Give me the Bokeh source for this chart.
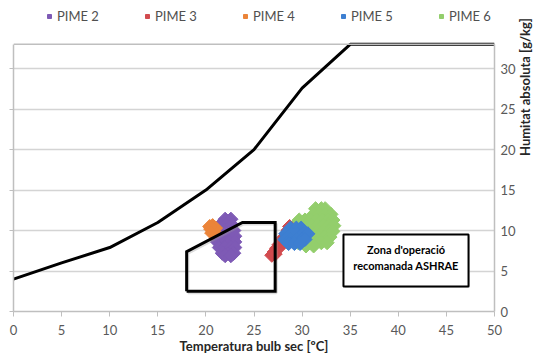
import math
from bokeh.plotting import figure
from bokeh.models import LinearAxis, Range1d, FixedTicker, Legend, LegendItem, Span
from bokeh.embed import file_html
from bokeh.resources import INLINE
from bokeh.core.properties import value

# ---------------- data ----------------
x_ticks = [0, 5, 10, 15, 20, 25, 30, 35, 40, 45, 50]
y_ticks = [0, 5, 10, 15, 20, 25, 30]
x_max = 50
y_max = 33

# saturation curve
sat_x = [0, 5, 10, 15, 20, 25, 30, 35, 50]
sat_y = [4.0, 6.0, 7.9, 11.0, 15.0, 20.0, 27.6, 33.0, 33.0]

# ASHRAE zone polygon
zone_x = [18.0, 18.0, 23.8, 27.2, 27.2, 18.0]
zone_y = [2.5, 7.4, 11.0, 11.0, 2.5, 2.5]

# annotation box (data units) and text
note_box = dict(left=34.3, right=47.3, bottom=3.1, top=9.5)
note_lines = ["Zona d'operació", "recomanada ASHRAE"]
note_x = [40.8, 40.8]
note_y = [7.6, 5.7]

x_title = "Temperatura bulb sec [ºC]"
y_title = "Humitat absoluta [g/kg]"

series_names = ["PIME 2", "PIME 3", "PIME 4", "PIME 5", "PIME 6"]
series_colors = ["#7E5AB5", "#D24B4F", "#EB8439", "#3D7FD1", "#93CE6C"]

pime2 = [(22.0, 11.4), (22.6, 11.4),
         (21.5, 10.7), (22.1, 10.7), (22.7, 10.7),
         (21.4, 10.0), (22.0, 10.0), (22.6, 10.0), (22.9, 10.0),
         (21.2, 9.3), (21.8, 9.3), (22.4, 9.3), (23.0, 9.3),
         (21.2, 8.6), (21.8, 8.6), (22.4, 8.6), (23.0, 8.6),
         (21.4, 7.9), (22.0, 7.9), (22.6, 7.9), (23.0, 7.9),
         (21.7, 7.2), (22.3, 7.2), (22.9, 7.2),
         (22.0, 6.9), (22.6, 6.9)]

pime3 = [(26.85, 6.95), (27.1, 7.35), (27.35, 7.8), (27.6, 8.25), (27.85, 8.7),
         (28.1, 9.15), (28.35, 9.6), (28.55, 10.05), (28.7, 10.5),
         (27.2, 7.1), (27.7, 8.0), (28.2, 8.9), (28.7, 9.8)]

pime4 = [(20.7, 10.6), (20.8, 9.9), (20.5, 10.2), (21.0, 10.3), (20.4, 10.5), (20.6, 9.7)]

pime5 = [(28.8, 10.3), (29.4, 10.3), (29.9, 10.3),
         (28.3, 9.6), (28.9, 9.6), (29.5, 9.6), (30.1, 9.6), (30.6, 9.6),
         (28.2, 8.9), (28.8, 8.9), (29.4, 8.9), (30.0, 8.9), (30.3, 8.9),
         (28.6, 8.4), (29.2, 8.4), (29.8, 8.4)]

pime6 = [(31.4, 12.7), (32.0, 12.7), (32.4, 12.7),
         (31.2, 12.0), (31.8, 12.0), (32.4, 12.0), (33.0, 12.0),
         (29.7, 11.3), (30.3, 11.3), (30.9, 11.3), (31.5, 11.3), (32.1, 11.3), (32.7, 11.3), (33.2, 11.3),
         (29.2, 10.6), (29.8, 10.6), (30.4, 10.6), (31.0, 10.6), (31.6, 10.6), (32.2, 10.6), (32.8, 10.6), (33.3, 10.6),
         (29.2, 9.9), (29.8, 9.9), (30.4, 9.9), (31.0, 9.9), (31.6, 9.9), (32.2, 9.9), (32.8, 9.9), (33.2, 9.9),
         (29.3, 9.2), (29.9, 9.2), (30.5, 9.2), (31.1, 9.2), (31.7, 9.2), (32.3, 9.2), (32.9, 9.2),
         (29.6, 8.5), (30.2, 8.5), (30.8, 8.5), (31.4, 8.5), (32.0, 8.5), (32.6, 8.5),
         (30.4, 8.1), (31.2, 8.1)]

series_points = [pime2, pime3, pime4, pime5, pime6]
draw_order = [4, 1, 3, 0, 2]

FONT = "Lato"
GRAY = "#bfbfbf"
TXT = "#505050"

# layout: the frame reaches the top of the canvas so that the legend (inside the frame)
# is not clipped; the visible plot box is y=0..y_max, drawn with axis lines and a top rule.
FRAME_TOP_PAD = 38.42

# ---------------- figure ----------------
p = figure(width=544, height=356, x_range=Range1d(0, x_max), y_range=Range1d(0, FRAME_TOP_PAD),
           output_backend="svg", toolbar_location=None, y_axis_location="right",
           min_border_left=13, min_border_right=50, min_border_top=0, min_border_bottom=44)
p.background_fill_color = "white"
p.border_fill_color = "white"
p.outline_line_color = None

p.xgrid.grid_line_color = None
p.ygrid.grid_line_color = "#d4d4d4"
p.ygrid.grid_line_width = 1.3
p.ygrid.ticker = FixedTicker(ticks=y_ticks)

p.add_layout(Span(location=y_max, dimension="width", line_color=GRAY, line_width=1.5))

xa = p.xaxis[0]
xa.ticker = FixedTicker(ticks=x_ticks)
xa.axis_line_color = GRAY
xa.axis_line_width = 1.5
xa.major_tick_line_color = GRAY
xa.major_tick_out = 5
xa.major_tick_in = 0
xa.minor_tick_line_color = None
xa.major_label_text_font = FONT
xa.major_label_text_font_size = "13px"
xa.major_label_text_color = "#595959"
xa.major_label_standoff = 8
xa.axis_label = x_title
xa.axis_label_text_font = FONT
xa.axis_label_text_font_size = "13px"
xa.axis_label_text_font_style = "bold"
xa.axis_label_text_color = "#262626"
xa.axis_label_standoff = 0

ya = p.yaxis[0]
ya.ticker = FixedTicker(ticks=y_ticks)
ya.bounds = (0, y_max)
ya.axis_line_color = GRAY
ya.axis_line_width = 1.5
ya.major_tick_out = 0
ya.major_tick_in = 0
ya.minor_tick_line_color = None
ya.major_label_text_font = FONT
ya.major_label_text_font_size = "13px"
ya.major_label_text_color = "#595959"
ya.major_label_standoff = 6
ya.axis_label = y_title
ya.axis_label_text_font = FONT
ya.axis_label_text_font_size = "13px"
ya.axis_label_text_font_style = "bold"
ya.axis_label_text_color = "#262626"
ya.axis_label_standoff = 6
ya.axis_label_orientation = math.pi / 2

la = LinearAxis(ticker=FixedTicker(ticks=y_ticks), bounds=(0, y_max),
                major_label_overrides={t: "" for t in y_ticks},
                major_label_standoff=0, axis_line_color=GRAY, axis_line_width=1.5,
                major_tick_line_color=GRAY, major_tick_out=4, major_tick_in=0,
                minor_tick_line_color=None)
p.add_layout(la, "left")

# saturation curve
p.line(sat_x, sat_y, line_color="black", line_width=3)

# scatter series
renderers = {}
for idx in draw_order:
    pts = series_points[idx]
    xs = [q[0] for q in pts]
    ys = [q[1] for q in pts]
    r = p.scatter(xs, ys, marker="square", size=10, angle=math.pi / 4,
                  fill_color=series_colors[idx], line_color=series_colors[idx], line_width=1)
    renderers[idx] = r

# zone polygon (with faint shadow)
p.line([x + 0.12 for x in zone_x], [y - 0.18 for y in zone_y], line_color="#999999",
       line_width=3, line_alpha=0.35)
p.line(zone_x, zone_y, line_color="black", line_width=3, line_join="miter")

# annotation box
p.quad(left=note_box["left"] + 0.15, right=note_box["right"] + 0.15,
       bottom=note_box["bottom"] - 0.2, top=note_box["top"] - 0.2,
       fill_color="#cccccc", fill_alpha=0.6, line_color=None)
p.quad(**note_box, fill_color="white", line_color="black", line_width=2)
p.text(note_x, note_y, text=note_lines, text_font=value(FONT), text_font_size="11px",
       text_font_style="bold", text_color="black", text_align="center", text_baseline="middle")

items = [LegendItem(label=series_names[i], renderers=[renderers[i]]) for i in range(5)]
legend = Legend(items=items, orientation="horizontal", location=(31, 287),
                glyph_width=10, glyph_height=10, label_height=16, label_width=85,
                label_standoff=3, spacing=0, padding=0, margin=0, border_line_color=None,
                background_fill_alpha=0, label_text_font=FONT,
                label_text_font_size="13px", label_text_color=TXT)
p.add_layout(legend)

open("out.html", "w").write(file_html(p, INLINE))
